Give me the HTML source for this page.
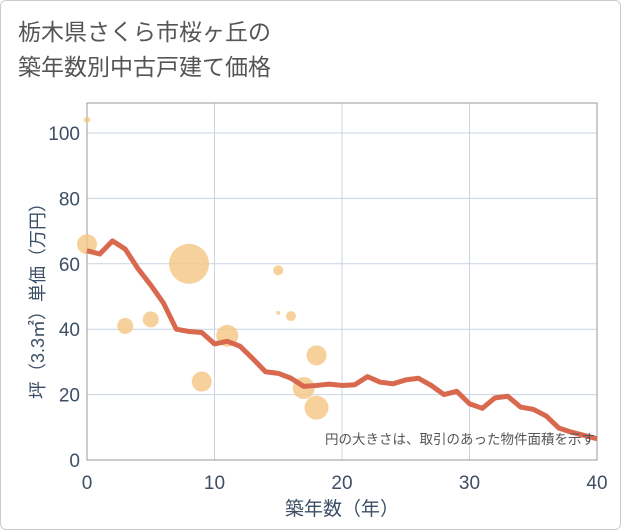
<!DOCTYPE html>
<html><head><meta charset="utf-8"><style>
body{margin:0;background:#fff;}
#wrap{position:relative;width:619px;height:528px;border:1px solid #ccc;border-radius:6px;overflow:hidden;font-family:"Liberation Sans","Noto Sans CJK JP",sans-serif;}
#title{position:absolute;left:17px;top:14px;font-size:23px;line-height:35px;color:#555;}
</style></head><body>
<div id="wrap">
<div id="title">栃木県さくら市桜ヶ丘の<br>築年数別中古戸建て価格</div>
<svg id="svg" width="621" height="530" style="position:absolute;left:-1px;top:-1px"></svg>
</div>
<script>
const years=[0,1,2,3,4,5,6,7,8,9,10,11,12,13,14,15,16,17,18,19,20,21,22,23,24,25,26,27,28,29,30,31,32,33,34,35,36,37,38,39,40];
const avgPrice=[64,63,67,64.5,58.5,53.5,48,40,39.3,39,35.5,36.3,34.8,31,27,26.5,25,22.5,22.8,23.2,22.8,23,25.5,23.8,23.3,24.5,25,22.8,20,21,17.2,15.8,19,19.5,16.2,15.5,13.5,9.8,8.5,7.5,6.5];
const bubbleX=[0,0,3,5,8,9,11,15,15,16,17,18,18];
const bubbleY=[104,66,41,43,60,24,38,58,45,44,22,32,16];
const bubbleArea=[9,100,64,64,400,100,121,25,4,25,121,100,144];
const xTicks=[0,10,20,30,40];
const yTicks=[0,20,40,60,80,100];
const NS="http://www.w3.org/2000/svg";
const svg=document.getElementById('svg');
const L=87,R=597,T=103,B=460;
const sx=v=>L+(R-L)*v/40;
const sy=v=>B-(460-133)*v/100;
function el(t,a,p){const e=document.createElementNS(NS,t);for(const k in a)e.setAttribute(k,a[k]);(p||svg).appendChild(e);return e;}
xTicks.forEach(t=>{
 const g=el('line',{x1:sx(t),x2:sx(t),y1:T,y2:B,stroke:'#c8d4e3','stroke-width':1});
 
 const tx=el('text',{x:sx(t),y:489,'text-anchor':'middle','font-size':19,fill:'#3d4f66'});
 tx.textContent=t;
 
});
yTicks.forEach(t=>{
 const g=el('line',{x1:L,x2:R,y1:sy(t),y2:sy(t),stroke:'#c8d4e3','stroke-width':1});
 
 const tx=el('text',{x:80,y:sy(t)+7,'text-anchor':'end','font-size':19,fill:'#3d4f66'});
 tx.textContent=t;
 
});
const fr=el('rect',{x:L,y:T,width:R-L,height:B-T,fill:'none',stroke:'#999','stroke-width':1});

bubbleX.forEach((x,i)=>{
 const c=el('circle',{cx:sx(x),cy:sy(bubbleY[i]),r:Math.sqrt(bubbleArea[i]),fill:'#f5c682','fill-opacity':0.8});
 
});
const pl=el('polyline',{points:years.map((y,i)=>sx(y)+','+sy(avgPrice[i])).join(' '),fill:'none',stroke:'#d9694e','stroke-width':5,'stroke-linejoin':'round'});

const n=el('text',{x:595,y:444,'text-anchor':'end','font-size':13.5,fill:'#555'});
n.textContent='円の大きさは、取引のあった物件面積を示す';

const xt=el('text',{x:sx(20),y:515,'text-anchor':'middle','font-size':19,fill:'#3d4f66'});
xt.textContent='築年数（年）';

const yt=el('text',{x:0,y:0,'text-anchor':'middle','font-size':18,fill:'#3d4f66',transform:'translate(44,'+((T+B)/2+15)+') rotate(-90)'});
yt.textContent='坪（3.3㎡）単価（万円）';

</script>
</body></html>
